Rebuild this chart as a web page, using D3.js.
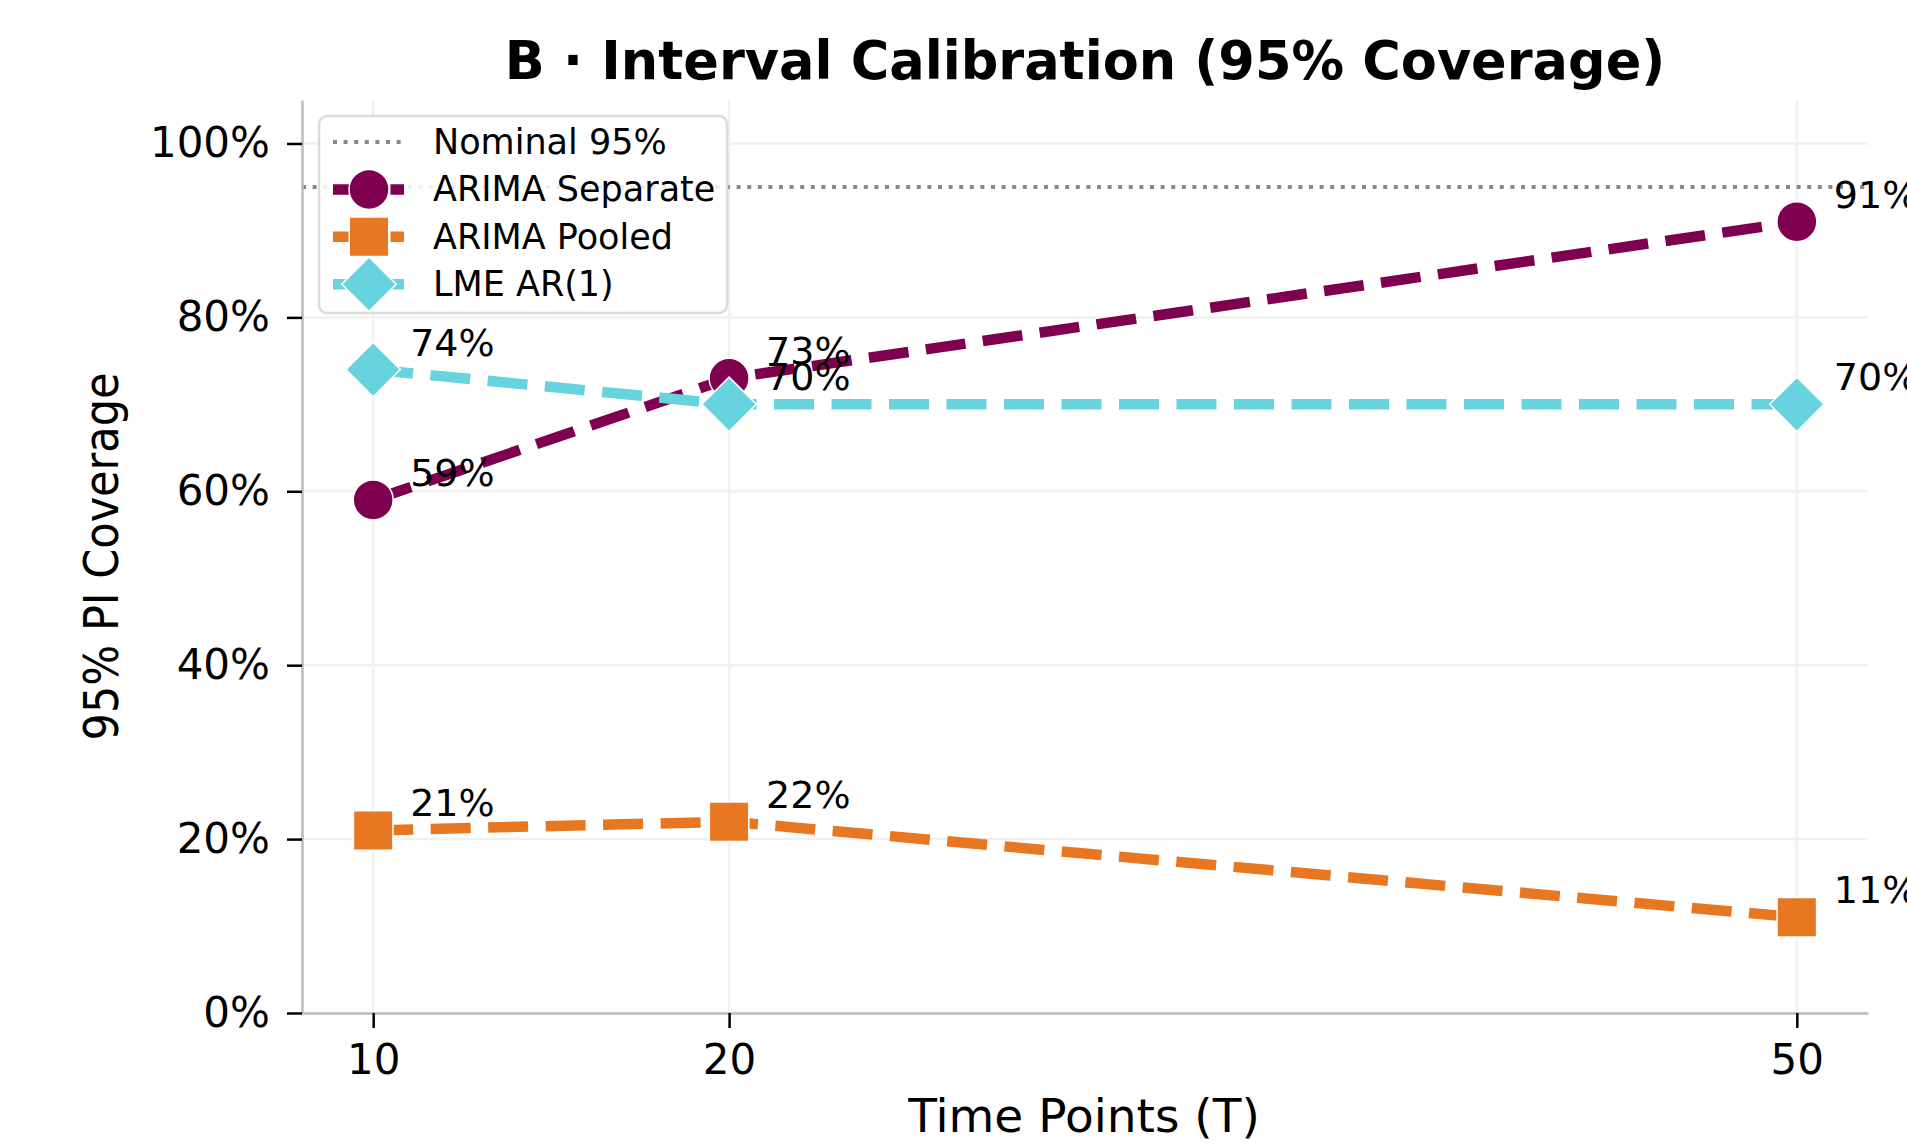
<!DOCTYPE html>
<html>
<head>
<meta charset="utf-8">
<script src="https://cdn.jsdelivr.net/npm/d3@7"></script>
<style>
  body { margin: 0; background: white; }
  text { font-family: "DejaVu Sans", sans-serif; }
</style>
</head>
<body>
<div id="chart"></div>
<script>
// values
var timePoints = [10, 20, 50];
var seriesNames = ["ARIMA Separate", "ARIMA Pooled", "LME AR(1)"];
var arimaSeparate = [0.59, 0.73, 0.91];
var arimaPooled = [0.21, 0.22, 0.11];
var lmeAr1 = [0.74, 0.70, 0.70];
var yTicks = [0, 0.2, 0.4, 0.6, 0.8, 1.0];
var nominalLevel = 0.95;
var nominalName = "Nominal 95%";

var width = 1907, height = 1146;
var margin = {top: 100, right: 39, bottom: 133, left: 302};

var colors = ["#800050", "#E87722", "#67D3DF"];
var shapes = ["circle", "square", "diamond"];
var allSeries = [arimaSeparate, arimaPooled, lmeAr1];
var dash = "40,17.5";

var svg = d3.select("#chart").append("svg")
  .attr("width", width)
  .attr("height", height)
  .style("background", "white");

var x = d3.scaleLinear()
  .domain([8, 52])
  .range([margin.left, width - margin.right]);

var y = d3.scaleLinear()
  .domain([0, 1.05])
  .range([height - margin.bottom, margin.top]);

// grid
var grid = svg.append("g").attr("class", "grid");
grid.selectAll("line.gy").data(yTicks).join("line")
  .attr("class", "gy")
  .attr("x1", x.range()[0]).attr("x2", x.range()[1])
  .attr("y1", d => y(d)).attr("y2", d => y(d))
  .attr("stroke", "#f0f0f0").attr("stroke-width", 2.5);
grid.selectAll("line.gx").data(timePoints).join("line")
  .attr("class", "gx")
  .attr("x1", d => x(d)).attr("x2", d => x(d))
  .attr("y1", y.range()[0]).attr("y2", y.range()[1])
  .attr("stroke", "#f0f0f0").attr("stroke-width", 2.5);

// nominal line
svg.append("line")
  .attr("x1", x.range()[0]).attr("x2", x.range()[1])
  .attr("y1", y(nominalLevel)).attr("y2", y(nominalLevel))
  .attr("stroke", "#888888")
  .attr("stroke-width", 4)
  .attr("stroke-dasharray", "4,6.6");

// axes
var xAxis = svg.append("g")
  .attr("transform", "translate(0," + y.range()[0] + ")")
  .call(d3.axisBottom(x).tickValues(timePoints).tickSize(15).tickSizeOuter(0).tickPadding(16));
var yAxis = svg.append("g")
  .attr("transform", "translate(" + x.range()[0] + ",0)")
  .call(d3.axisLeft(y).tickValues(yTicks).tickFormat(d3.format(".0%")).tickSize(15).tickSizeOuter(0).tickPadding(17));

[xAxis, yAxis].forEach(function(ax) {
  ax.select(".domain").attr("stroke", "#bbbbbb").attr("stroke-width", 2.5);
  ax.selectAll(".tick line").attr("stroke", "black").attr("stroke-width", 2.5);
  ax.selectAll(".tick text")
    .attr("fill", "black")
    .style("font-family", "DejaVu Sans")
    .style("font-size", "42px");
});

function markerPath(shape) {
  if (shape === "circle") return d3.symbol(d3.symbolCircle, Math.PI * 20 * 20)();
  if (shape === "square") return d3.symbol(d3.symbolSquare, 39.5 * 39.5)();
  return d3.symbol(d3.symbolSquare, 38.5 * 38.5)();
}

function drawMarker(g, shape, color, cx, cy) {
  var rot = shape === "diamond" ? " rotate(45)" : "";
  g.append("path")
    .attr("d", markerPath(shape))
    .attr("transform", "translate(" + cx + "," + cy + ")" + rot)
    .attr("fill", color)
    .attr("stroke", "white")
    .attr("stroke-width", 1.5);
}

var line = d3.line()
  .x((d, i) => x(timePoints[i]))
  .y(d => y(d));

// series
allSeries.forEach(function(values, s) {
  var g = svg.append("g").attr("class", "series");
  g.append("path")
    .datum(values)
    .attr("d", line)
    .attr("fill", "none")
    .attr("stroke", colors[s])
    .attr("stroke-width", 10.5)
    .attr("stroke-dasharray", dash);
  values.forEach(function(v, i) {
    drawMarker(g, shapes[s], colors[s], x(timePoints[i]), y(v));
  });
});

// value labels
allSeries.forEach(function(values, s) {
  svg.append("g").selectAll("text").data(values).join("text")
    .attr("x", (d, i) => x(timePoints[i]) + 37)
    .attr("y", d => y(d) - 14)
    .style("font-size", "38px")
    .attr("fill", "black")
    .text(d => Math.round(d * 100) + "%");
});

// legend
var legend = svg.append("g").attr("class", "legend");
legend.append("rect")
  .attr("x", 319).attr("y", 116)
  .attr("width", 408).attr("height", 197)
  .attr("rx", 8)
  .attr("fill", "white").attr("fill-opacity", 0.85)
  .attr("stroke", "#dcdcdc").attr("stroke-width", 2.5);

var legendNames = [nominalName].concat(seriesNames);
legendNames.forEach(function(name, i) {
  var cy = 142 + i * 47.4;
  if (i === 0) {
    legend.append("line")
      .attr("x1", 333).attr("x2", 404)
      .attr("y1", cy).attr("y2", cy)
      .attr("stroke", "#888888")
      .attr("stroke-width", 4)
      .attr("stroke-dasharray", "4,6.6");
  } else {
    legend.append("line")
      .attr("x1", 333).attr("x2", 404)
      .attr("y1", cy).attr("y2", cy)
      .attr("stroke", colors[i - 1])
      .attr("stroke-width", 10.5)
      .attr("stroke-dasharray", dash);
    drawMarker(legend, shapes[i - 1], colors[i - 1], 369, cy);
  }
  legend.append("text")
    .attr("x", 433)
    .attr("y", cy + 12)
    .style("font-size", "35px")
    .text(name);
});

// titles
svg.append("text")
  .attr("x", 1085).attr("y", 79)
  .attr("text-anchor", "middle")
  .style("font-size", "52.5px")
  .style("font-weight", "bold")
  .text("B · Interval Calibration (95% Coverage)");

svg.append("text")
  .attr("x", 1084).attr("y", 1132)
  .attr("text-anchor", "middle")
  .style("font-size", "47px")
  .text("Time Points (T)");

svg.append("text")
  .attr("transform", "translate(118," + ((y.range()[0] + y.range()[1]) / 2) + ") rotate(-90)")
  .attr("text-anchor", "middle")
  .attr("textLength", 368)
  .attr("lengthAdjust", "spacingAndGlyphs")
  .style("font-size", "48px")
  .text("95% PI Coverage");
</script>
</body>
</html>
